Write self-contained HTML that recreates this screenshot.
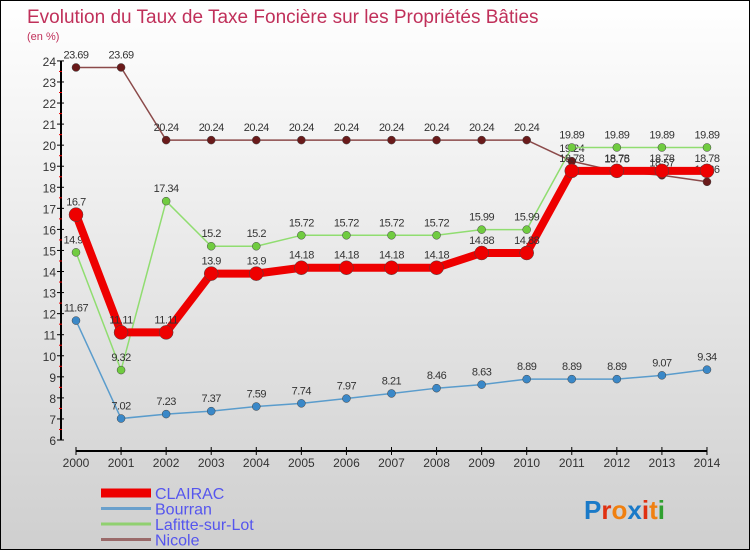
<!DOCTYPE html>
<html><head><meta charset="utf-8"><style>
body{margin:0;width:750px;height:550px;overflow:hidden;font-family:"Liberation Sans",sans-serif}
#wrap{position:relative;width:748px;height:548px;border:1px solid #000;background:linear-gradient(#ffffff,#cfcfcf)}
svg text{font-family:"Liberation Sans",sans-serif}
</style></head><body>
<div id="wrap">
<svg id="chart" width="748" height="548">
<text x="26" y="22" font-size="19" fill="#c0305a">Evolution du Taux de Taxe Foncière sur les Propriétés Bâties</text>
<text x="26" y="39" font-size="11" fill="#c0305a">(en %)</text>
<g id="axes"></g><g id="series"></g><g id="legend"></g>
<text x="583" y="518" font-size="26" font-weight="bold"><tspan fill="#1a7ac8">P</tspan><tspan fill="#e03010">r</tspan><tspan fill="#f08010">o</tspan><tspan fill="#1a7ac8">x</tspan><tspan fill="#e03010">i</tspan><tspan fill="#f08010">t</tspan><tspan fill="#30a030">i</tspan></text>
</svg></div>
<script>
const years=[2000,2001,2002,2003,2004,2005,2006,2007,2008,2009,2010,2011,2012,2013,2014];
const yTicks=[6,7,8,9,10,11,12,13,14,15,16,17,18,19,20,21,22,23,24];
const clairac=[16.7,11.11,11.11,13.9,13.9,14.18,14.18,14.18,14.18,14.88,14.88,18.78,18.78,18.78,18.78];
const bourran=[11.67,7.02,7.23,7.37,7.59,7.74,7.97,8.21,8.46,8.63,8.89,8.89,8.89,9.07,9.34];
const lafitte=[14.91,9.32,17.34,15.2,15.2,15.72,15.72,15.72,15.72,15.99,15.99,19.89,19.89,19.89,19.89];
const nicole=[23.69,23.69,20.24,20.24,20.24,20.24,20.24,20.24,20.24,20.24,20.24,19.24,18.75,18.57,18.26];
const seriesNames=["CLAIRAC","Bourran","Lafitte-sur-Lot","Nicole"];
const NS="http://www.w3.org/2000/svg";
const X=i=>75+i*45.07, Y=v=>439-(v-6)*21.06;
function mk(t,a,p){const e=document.createElementNS(NS,t);for(const k in a)e.setAttribute(k,a[k]);p.appendChild(e);return e;}
const ax=document.getElementById('axes');
let yl=mk('line',{x1:60,y1:Y(24),x2:60,y2:Y(6),stroke:'#000','stroke-width':2},ax);


yTicks.forEach(t=>{
 mk('line',{x1:56,x2:63,y1:Y(t),y2:Y(t),stroke:'#000'},ax);
 if(t<24) mk('line',{x1:58,x2:61,y1:Y(t+0.5),y2:Y(t+0.5),stroke:'#e00'},ax);
 const tx=mk('text',{x:55,y:Y(t)+5,'font-size':12,'text-anchor':'end',fill:'#333'},ax);tx.textContent=t;
 
 
});
let xl=mk('line',{x1:X(0),y1:450,x2:X(14),y2:450,stroke:'#000','stroke-width':2},ax);


years.forEach((y,i)=>{
 mk('line',{x1:X(i),x2:X(i),y1:446,y2:454,stroke:'#000'},ax);
 const tx=mk('text',{x:X(i),y:466,'font-size':12,'text-anchor':'middle',fill:'#333'},ax);tx.textContent=y;
 
 
});
const sg=document.getElementById('series');
function draw(data,line,fill,lw,r,name){
 const g=mk('g',{},sg);
 
 
 const pl=mk('polyline',{points:data.map((v,i)=>X(i)+','+Y(v)).join(' '),fill:'none',stroke:line,'stroke-width':lw,'stroke-linejoin':'round'},g);
 
 
 data.forEach((v,i)=>{
  const c=mk('circle',{cx:X(i),cy:Y(v),r:r,fill:fill,stroke:'#444','stroke-width':0.5},g);
  
  
  const t=mk('text',{x:X(i),y:Y(v)-9,'font-size':11,'text-anchor':'middle',fill:'#333','letter-spacing':'-0.5'},g);t.textContent=v;
  
  
 });
}
draw(nicole,'#8b4a4a','#6a1a1a',1.5,4,'nicole');
draw(lafitte,'#90dd70','#70cc40',1.5,4,'lafitte');
draw(bourran,'#5a9ccc','#3a88c8',1.5,4,'bourran');
draw(clairac,'#ee0000','#ee0000',8,7,'clairac');
const lg=document.getElementById('legend');
const lc=['#ee0000','#6aa0cc','#90d070','#9a6a6a'],lw=[9,3,3,3];
seriesNames.forEach((n,i)=>{
 const yy=492+i*15.5;
 const l=mk('line',{x1:100,x2:150,y1:yy,y2:yy,stroke:lc[i],'stroke-width':lw[i]},lg);
 
 
 const t=mk('text',{x:154,y:yy+6,'font-size':16,fill:'#5555ee'},lg);t.textContent=n;
 
 
});
</script></body></html>
